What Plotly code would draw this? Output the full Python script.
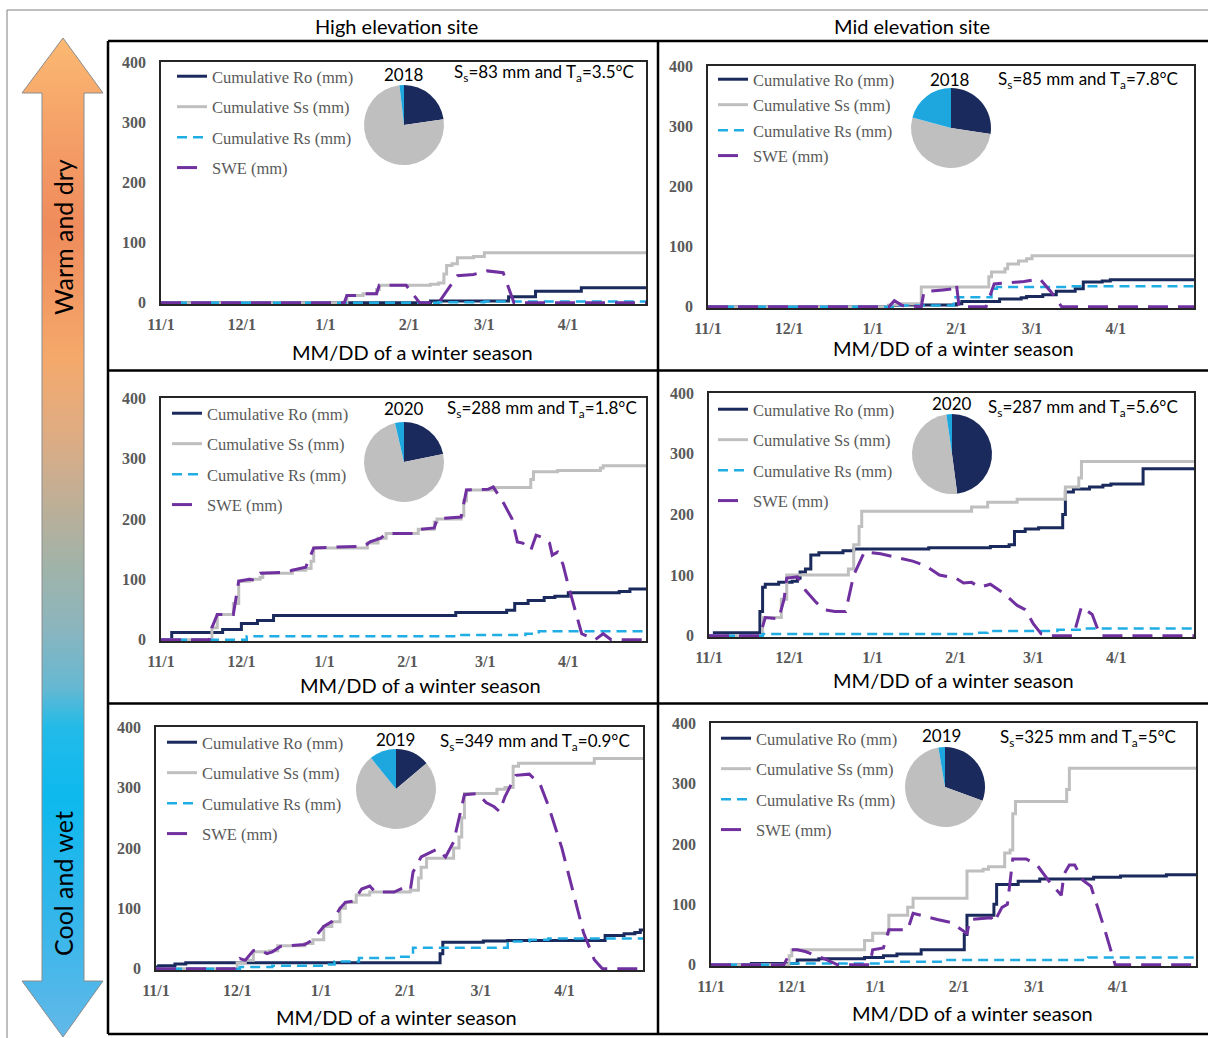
import plotly.graph_objects as go

W, H = 1208, 1038

# ---------------------------------------------------------------------------
# Data: breakpoints of each daily series as (MM-DD, mm).
# Cumulative fluxes are step series (value holds until the next date);
# SWE is drawn as a continuous line between readings.
# ---------------------------------------------------------------------------

# High elevation site, winter 2018
hi18_ro_day = ["11-01", "02-09", "03-10", "03-20", "04-06", "04-30"]
hi18_ro = [0, 3, 10, 19, 25, 25]
hi18_ss_day = ["11-01", "01-09", "01-15", "01-20", "01-21", "02-09", "02-12", "02-14",
               "02-15", "02-17", "02-19", "02-25", "03-01", "04-30"]
hi18_ss = [0, 12, 15, 22, 29, 31, 33, 48, 62, 65, 75, 77, 83, 83]
hi18_rs_day = ["11-01", "02-12", "03-01", "04-30"]
hi18_rs = [0, 1, 2, 2]
hi18_swe_day = ["11-01", "01-08", "01-09", "01-13", "01-15", "01-20", "01-21", "01-31",
                "02-05", "02-12", "02-19", "02-25", "03-02", "03-08", "03-12", "04-30"]
hi18_swe = [0, 0, 12, 12, 15, 15, 29, 29, 0, 0, 45, 47, 53, 50, 0, 0]

# Mid elevation site, winter 2018
mid18_ro_day = ["11-01", "01-07", "01-11", "02-01", "02-03", "02-17", "02-25", "02-27",
                "03-05", "03-10", "03-17", "03-20", "03-27", "03-30", "04-30"]
mid18_ro = [0, 2, 3, 5, 9, 13, 15, 17, 20, 26, 30, 41, 43, 45, 45]
mid18_ss_day = ["11-01", "01-07", "01-11", "01-19", "02-13", "02-14", "02-19", "02-20",
                "02-24", "02-27", "03-01", "04-30"]
mid18_ss = [0, 3, 5, 33, 50, 58, 63, 71, 76, 80, 85, 85]
mid18_rs_day = ["11-01", "01-10", "01-31", "02-14", "02-16", "03-15", "04-30"]
mid18_rs = [0, 2, 16, 30, 33, 34, 34]
mid18_swe_day = ["11-01", "01-07", "01-09", "01-12", "01-19", "01-20", "01-27", "01-31",
                 "02-01", "02-02", "02-12", "02-15", "02-26", "03-04", "03-08", "03-12",
                 "04-30"]
mid18_swe = [0, 0, 10, 2, 0, 25, 28, 30, 38, 0, 0, 38, 42, 46, 25, 0, 0]

# High elevation site, winter 2020
hi20_ro_day = ["11-01", "11-05", "11-24", "12-01", "12-07", "12-13", "02-19", "03-09",
               "03-12", "03-17", "03-23", "03-27", "04-01", "04-20", "04-24", "04-30"]
hi20_ro = [0, 12, 17, 27, 32, 40, 45, 49, 60, 65, 70, 72, 78, 80, 84, 84]
hi20_ss_day = ["11-01", "11-20", "11-22", "11-28", "11-30", "12-04", "12-08", "12-09",
               "12-20", "12-25", "12-27", "12-28", "01-17", "01-21", "01-24", "02-05",
               "02-11", "02-12", "02-21", "02-22", "02-23", "03-04", "03-18", "03-19",
               "03-28", "04-13", "04-14", "04-30"]
hi20_ss = [0, 20, 42, 60, 97, 100, 103, 110, 115, 118, 130, 152, 160, 168, 176, 183,
           195, 200, 205, 230, 248, 252, 265, 278, 280, 284, 288, 288]
hi20_rs_day = ["11-01", "12-03", "02-20", "03-16", "03-21", "04-30"]
hi20_rs = [0, 6, 8, 10, 14, 14]
hi20_swe_day = ["11-01", "11-19", "11-20", "11-22", "11-28", "11-29", "11-30", "12-04",
                "12-06", "12-08", "12-18", "12-20", "12-25", "12-28", "01-16", "01-18",
                "01-22", "01-24", "02-04", "02-06", "02-11", "02-12", "02-21", "02-23",
                "03-02", "03-04", "03-08", "03-11", "03-13", "03-15", "03-18", "03-20",
                "03-23", "03-25", "03-26", "03-28", "03-30", "04-01", "04-04", "04-06",
                "04-11", "04-14", "04-17", "04-30"]
hi20_swe = [0, 0, 20, 42, 42, 70, 97, 100, 98, 110, 112, 115, 120, 152, 155, 162,
            168, 176, 176, 183, 185, 200, 203, 248, 249, 253, 225, 200, 162, 160, 148, 173,
            168, 160, 140, 145, 125, 90, 40, 10, 0, 10, 0, 0]

# Mid elevation site, winter 2020
mid20_ro_day = ["11-01", "11-03", "11-20", "11-21", "11-22", "11-27", "12-02", "12-04",
                "12-05", "12-07", "12-09", "12-12", "12-21", "12-25", "01-22", "02-14",
                "02-21", "02-23", "02-27", "03-03", "03-12", "03-13", "03-16", "03-22",
                "03-27", "03-30", "04-11", "04-30"]
mid20_ro = [0, 5, 40, 80, 85, 88, 90, 95, 105, 110, 133, 137, 140, 143, 145, 147,
            150, 172, 176, 178, 200, 237, 242, 245, 248, 250, 275, 276]
mid20_ss_day = ["11-01", "11-21", "11-28", "11-30", "12-23", "12-25", "12-27", "12-28",
                "02-07", "02-13", "02-24", "03-13", "03-18", "03-19", "04-30"]
mid20_ss = [0, 30, 60, 100, 110, 150, 180, 205, 212, 220, 225, 245, 260, 287, 287]
mid20_rs_day = ["11-01", "11-21", "02-08", "02-13", "03-10", "03-19", "04-30"]
mid20_rs = [0, 3, 5, 8, 10, 12, 13]
mid20_swe_day = ["11-01", "11-20", "11-22", "11-27", "11-29", "11-30", "12-04", "12-07",
                 "12-11", "12-14", "12-18", "12-22", "12-25", "12-29", "01-04", "01-09",
                 "01-16", "01-21", "01-26", "02-01", "02-04", "02-07", "02-10", "02-14",
                 "02-19", "02-24", "02-27", "03-01", "03-04", "03-07", "03-16", "03-19",
                 "03-23", "03-26", "04-30"]
mid20_swe = [0, 0, 30, 28, 60, 95, 97, 75, 55, 43, 40, 40, 100, 138, 135, 130,
             123, 115, 100, 95, 87, 88, 80, 85, 70, 50, 43, 20, 3, 0, 0, 48,
             35, 0, 0]

# High elevation site, winter 2019
hi19_ro_day = ["11-01", "11-02", "11-08", "11-12", "02-14", "02-15", "03-02", "03-11",
               "04-16", "04-23", "04-27", "04-29", "04-30"]
hi19_ro = [3, 5, 8, 10, 25, 44, 46, 47, 55, 58, 60, 64, 64]
hi19_ss_day = ["11-01", "12-01", "12-04", "12-07", "12-13", "12-16", "12-26", "12-29",
               "01-02", "01-05", "01-08", "01-10", "01-14", "01-19", "02-03", "02-06",
               "02-07", "02-09", "02-19", "02-21", "02-22", "02-23", "03-07", "03-10",
               "03-13", "03-15", "04-12", "04-30"]
hi19_ss = [0, 10, 14, 28, 30, 38, 42, 48, 70, 78, 100, 110, 122, 127, 130, 150,
           168, 183, 200, 218, 250, 290, 297, 300, 335, 340, 348, 349]
hi19_rs_day = ["11-01", "12-02", "12-14", "01-03", "01-06", "01-15", "01-29", "02-04",
               "03-11", "03-19", "03-26", "04-30"]
hi19_rs = [0, 3, 5, 7, 12, 18, 20, 35, 45, 48, 50, 50]
hi19_swe_day = ["11-01", "11-30", "12-02", "12-04", "12-07", "12-09", "12-12", "12-14",
                "12-17", "12-26", "12-29", "01-02", "01-05", "01-08", "01-10", "01-13",
                "01-16", "01-19", "01-21", "01-28", "01-31", "02-03", "02-04", "02-07",
                "02-13", "02-16", "02-19", "02-23", "02-28", "03-03", "03-06", "03-08",
                "03-10", "03-14", "03-19", "03-23", "03-26", "03-31", "04-04", "04-08",
                "04-12", "04-15", "04-30"]
hi19_swe = [0, 0, 17, 14, 30, 32, 25, 28, 37, 40, 48, 70, 78, 100, 110, 112,
            132, 137, 127, 127, 133, 130, 160, 185, 198, 185, 210, 288, 290, 275, 268, 260,
            285, 320, 322, 305, 270, 200, 130, 60, 15, 0, 0]

# Mid elevation site, winter 2019
mid19_ro_day = ["11-01", "11-16", "12-03", "12-11", "12-28", "01-04", "01-09", "01-18",
                "02-03", "02-04", "02-14", "02-15", "02-23", "03-03", "03-23", "04-02",
                "04-19", "04-30"]
mid19_ro = [0, 2, 8, 10, 12, 15, 18, 25, 50, 82, 100, 133, 138, 142, 145, 147, 149, 149]
mid19_ss_day = ["11-01", "11-30", "12-01", "12-28", "12-31", "01-06", "01-13", "01-15",
                "02-04", "02-10", "02-12", "02-18", "02-20", "02-21", "02-22", "03-13",
                "03-14", "04-30"]
mid19_ss = [0, 15, 25, 40, 52, 82, 95, 110, 155, 158, 162, 185, 190, 250, 270, 290,
            325, 325]
mid19_rs_day = ["11-01", "11-30", "01-03", "01-27", "03-21", "04-30"]
mid19_rs = [0, 2, 5, 8, 12, 13]
mid19_swe_day = ["11-01", "11-28", "12-01", "12-03", "12-06", "12-13", "12-18", "12-30",
                 "12-31", "01-04", "01-06", "01-13", "01-15", "01-19", "01-24", "01-29",
                 "02-03", "02-04", "02-05", "02-13", "02-14", "02-17", "02-19", "02-21",
                 "02-26", "03-02", "03-07", "03-11", "03-12", "03-14", "03-16", "03-19",
                 "03-22", "03-27", "03-31", "04-30"]
mid19_swe = [0, 0, 25, 25, 22, 10, 0, 0, 25, 28, 58, 58, 85, 80, 75, 70,
             55, 50, 75, 78, 70, 95, 100, 175, 175, 165, 135, 115, 150, 165, 165, 140,
             130, 60, 0, 0]

# Season labels and climate summaries
seasons = [2018, 2018, 2020, 2020, 2019, 2019]
snow_totals = ["83", "85", "288", "287", "349", "325"]
mean_temps = ["3.5", "7.8", "1.8", "5.6", "0.9", "5"]

series_names = ["Cumulative Ro (mm)", "Cumulative Ss (mm)", "Cumulative Rs (mm)", "SWE (mm)"]
tick_dates = ["11-01", "12-01", "01-01", "02-01", "03-01", "04-01"]
tick_text = ["11/1", "12/1", "1/1", "2/1", "3/1", "4/1"]
y_ticks = [0, 100, 200, 300, 400]

panels_data = [
    (hi18_ro_day, hi18_ro, hi18_ss_day, hi18_ss, hi18_rs_day, hi18_rs, hi18_swe_day, hi18_swe),
    (mid18_ro_day, mid18_ro, mid18_ss_day, mid18_ss, mid18_rs_day, mid18_rs, mid18_swe_day, mid18_swe),
    (hi20_ro_day, hi20_ro, hi20_ss_day, hi20_ss, hi20_rs_day, hi20_rs, hi20_swe_day, hi20_swe),
    (mid20_ro_day, mid20_ro, mid20_ss_day, mid20_ss, mid20_rs_day, mid20_rs, mid20_swe_day, mid20_swe),
    (hi19_ro_day, hi19_ro, hi19_ss_day, hi19_ss, hi19_rs_day, hi19_rs, hi19_swe_day, hi19_swe),
    (mid19_ro_day, mid19_ro, mid19_ss_day, mid19_ss, mid19_rs_day, mid19_rs, mid19_swe_day, mid19_swe),
]

# ---------------------------------------------------------------------------
# Layout geometry (pixels from the top-left of the page)
# ---------------------------------------------------------------------------
plot_boxes = [  # left, right, top, bottom of each plotting area
    (161, 646, 62, 304), (708, 1194, 66, 308),
    (161, 646, 398, 641), (709, 1194, 393, 637),
    (156, 643, 727, 970), (711, 1196, 723, 966),
]
pie_centres = [(404, 125), (951, 128), (404, 462), (952, 454), (396, 789), (945, 787)]
pie_radius = 40
year_pos = [(404, 75), (950, 79), (404, 408), (952, 403), (395, 739), (941, 735)]
summary_pos = [(636, 73), (1180, 80), (639, 409), (1180, 408), (632, 742), (1178, 738)]
legend_pos = [(178, 77), (719, 80), (173, 414), (719, 410), (168, 743), (722, 739)]
legend_gap = [30, 25, 30, 30, 30, 30]
xtitle_pos = [(412, 352), (953, 348), (420, 685), (953, 680), (396, 1017), (972, 1013)]

C_RO, C_SS, C_RS, C_SWE = "#1B2A5C", "#BFBFBF", "#1FADE4", "#7030A0"
SANS = "Lato"
SERIF = "Liberation Serif"


def fx(x):
    return x / W


def fy(y):
    return 1 - y / H


def season_dates(end_year, days):
    out = []
    for d in days:
        yr = end_year - 1 if int(d[:2]) >= 10 else end_year
        out.append(f"{yr}-{d}")
    return out


def label(x, y, text, size, **kw):
    opts = dict(x=fx(x), y=fy(y), xref="paper", yref="paper", text=text,
                showarrow=False, xanchor="center", yanchor="middle",
                font=dict(family=SANS, size=size, color="black"))
    opts.update(kw)
    return opts


fig = go.Figure()
annotations = []
shapes = []

for i, (data, yr) in enumerate(zip(panels_data, seasons)):
    ro_d, ro, ss_d, ss, rs_d, rs, swe_d, swe = data
    n = i + 1
    xa, ya = f"x{n}", f"y{n}"
    leg = "legend" if n == 1 else f"legend{n}"
    specs = [
        (ro_d, ro, dict(color=C_RO, width=3), "hv"),
        (ss_d, ss, dict(color=C_SS, width=3), "hv"),
        (rs_d, rs, dict(color=C_RS, width=2.5, dash="10px,6px"), "hv"),
        (swe_d, swe, dict(color=C_SWE, width=3, dash="20px,10px"), "linear"),
    ]
    for k, (dd, vv, ln, shape) in enumerate(specs):
        fig.add_trace(go.Scatter(
            x=season_dates(yr, dd), y=vv, mode="lines", name=series_names[k],
            line=dict(shape=shape, **ln), xaxis=xa, yaxis=ya, legend=leg,
            legendgroup=f"p{n}s{k}", hoverinfo="x+y+name",
        ))

    # share of the season totals
    cx, cy = pie_centres[i]
    fig.add_trace(go.Pie(
        values=[ro[-1], ss[-1], rs[-1]], labels=series_names[:3], sort=False,
        direction="clockwise", rotation=0, textinfo="none", showlegend=False,
        marker=dict(colors=[C_RO, C_SS, "#1EA7DF"], line=dict(width=0)),
        domain=dict(x=[fx(cx - pie_radius), fx(cx + pie_radius)],
                    y=[fy(cy + pie_radius), fy(cy - pie_radius)]),
    ))

    left, right, top, bottom = plot_boxes[i]
    axis_common = dict(showline=True, mirror=True, linecolor="#262626", linewidth=1.5,
                       showgrid=False, zeroline=False, ticks="outside", automargin=False,
                       tickcolor="rgba(0,0,0,0)",
                       tickfont=dict(family=SERIF, size=16, color="#595959", weight="bold"))
    fig.update_layout(**{
        f"xaxis{n}": dict(domain=[fx(left), fx(right)], anchor=ya, type="date",
                          range=[f"{yr - 1}-11-01", f"{yr}-04-30"], ticklen=5,
                          tickvals=season_dates(yr, tick_dates), ticktext=tick_text,
                          **axis_common),
        f"yaxis{n}": dict(domain=[fy(bottom), fy(top)], anchor=xa, range=[-2, 400],
                          ticklen=10, tickvals=y_ticks, **axis_common),
    })

    lx, ly = legend_pos[i]
    fig.update_layout(**{leg: dict(
        x=fx(lx - 6), y=fy(ly - 18), xanchor="left", yanchor="top",
        bgcolor="rgba(0,0,0,0)", borderwidth=0, traceorder="grouped",
        tracegroupgap=legend_gap[i] - 24, itemclick=False, itemdoubleclick=False,
        font=dict(family=SERIF, size=16.5, color="#595959"),
    )})

    yx, yy = year_pos[i]
    annotations.append(label(yx, yy, str(yr), 17))
    sx, sy = summary_pos[i]
    annotations.append(label(
        sx, sy, f"S<sub>s</sub>={snow_totals[i]} mm and T<sub>a</sub>={mean_temps[i]}°C",
        17, xanchor="right"))
    tx, ty = xtitle_pos[i]
    annotations.append(label(tx, ty, "MM/DD of a winter season", 20))

# column headings
annotations.append(label(396, 26, "High elevation site", 20))
annotations.append(label(912, 26, "Mid elevation site", 20))

# climate gradient arrow
arrow_x = [63, 103, 84, 84, 103, 63, 22, 42, 42, 22, 63]
arrow_y = [38, 93, 93, 981, 981, 1037, 981, 981, 93, 93, 38]
fig.add_trace(go.Scatter(
    x=arrow_x, y=arrow_y, mode="lines", fill="toself", showlegend=False, hoverinfo="skip",
    line=dict(color="#8C8C8C", width=1), xaxis="x7", yaxis="y7",
    fillgradient=dict(type="vertical", start=38, stop=1037, colorscale=[
        [0.00, "#FBB972"], [0.11, "#F49C66"], [0.19, "#EF8B5C"], [0.26, "#F29A63"],
        [0.32, "#F5A96B"], [0.40, "#DDAC84"], [0.47, "#BCAF98"], [0.53, "#A0B3A9"],
        [0.59, "#8BB5BE"], [0.65, "#66B8D2"], [0.69, "#22BBE8"], [0.76, "#0DB9EE"],
        [0.86, "#2DB6EB"], [1.00, "#62B8E8"]]),
))
fig.update_layout(
    xaxis7=dict(domain=[0, 1], range=[0, W], visible=False, anchor="y7", fixedrange=True,
                automargin=False),
    yaxis7=dict(domain=[0, 1], range=[H, 0], visible=False, anchor="x7", fixedrange=True,
                automargin=False),
)
annotations.append(label(63, 237, "Warm and dry", 25, textangle=-90))
annotations.append(label(63, 884, "Cool and wet", 25, textangle=-90))

# outer frame (top and left edges) and panel grid, kept inside the page
shapes.append(dict(type="path", xref="paper", yref="paper",
                   path=f"M {fx(W)},{fy(10)} L {fx(7)},{fy(10)} L {fx(7)},{fy(H)}",
                   line=dict(color="#7F7F7F", width=1)))
for y_line in (41, 370.5, 703.5, 1034):
    shapes.append(dict(type="line", xref="paper", yref="paper", x0=fx(108), x1=fx(W),
                       y0=fy(y_line), y1=fy(y_line), line=dict(color="black", width=2.5)))
for x_line in (108, 658):
    shapes.append(dict(type="line", xref="paper", yref="paper", x0=fx(x_line), x1=fx(x_line),
                       y0=fy(1034), y1=fy(41), line=dict(color="black", width=2.5)))

fig.update_layout(
    width=W, height=H, margin=dict(l=0, r=0, t=0, b=0, autoexpand=False),
    paper_bgcolor="white", plot_bgcolor="rgba(0,0,0,0)",
    annotations=annotations, shapes=shapes, hovermode="closest",
)

fig.write_html("out.html")
